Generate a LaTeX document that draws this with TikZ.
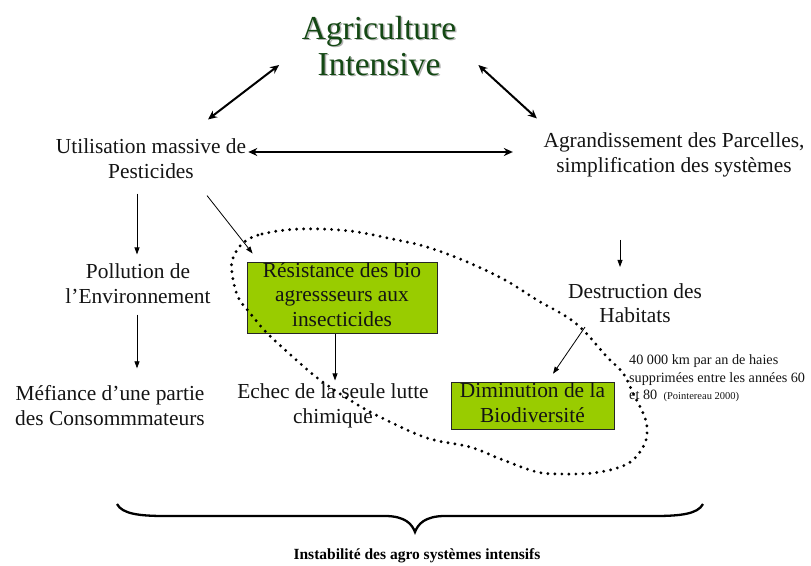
\documentclass[tikz,border=0pt]{standalone}
\usepackage{fontspec}
\setmainfont{Liberation Serif}
\usetikzlibrary{arrows.meta,calc}
\definecolor{leaf}{RGB}{153,204,0}
\definecolor{titlegreen}{RGB}{20,72,20}
\begin{document}
\begin{tikzpicture}[x=1pt,y=-1pt,
  body/.style={font=\fontsize{21.4}{24.5}\selectfont, align=center, inner sep=0pt,
    text=black!92, execute at begin node=\strut, execute at end node=\strut},
  titletext/.style={font=\fontsize{33.5}{36}\selectfont, align=center, inner sep=0pt,
    execute at begin node=\strut, execute at end node=\strut},
  greenbox/.style={body, fill=leaf, draw=black!85, line width=0.8pt},
  notetext/.style={font=\fontsize{14.2}{17.5}\selectfont, align=left, inner sep=0pt,
    text=black!92, execute at begin node=\strut, execute at end node=\strut},
  bigarrow/.style={{Stealth[length=9pt,width=8pt]}-{Stealth[length=9pt,width=8pt]}, line width=2pt},
  smallarrow/.style={-{Triangle[length=7pt,width=5pt]}, line width=0.8pt},
  dotline/.style={line width=3.2pt, line cap=round, dash pattern=on 0pt off 7pt},
]
\useasboundingbox (0,0) rectangle (811,565);

% title with its soft shadow
\node[titletext, text=black!30] (titleshade) at (380.5,52.5) {Agriculture\\Intensive};
\node[titletext, text=titlegreen] (title) at (379,51) {Agriculture\\Intensive};

% text blocks
\node[body] (util) at (151,162) {Utilisation massive de\\Pesticides};
\node[body] (agr) at (674,156) {Agrandissement des Parcelles,\\simplification des systèmes};
\node[body] (poll) at (138,287) {Pollution de\\l’Environnement};
\node[body] (mef) at (110,409) {Méfiance d’une partie\\des Consommmateurs};
\node[greenbox, minimum width=190pt] (res) at (342,298) {Résistance des bio\\agressseurs aux\\insecticides};
\node[body] (echec) at (333,407) {Echec de la seule lutte\\chimique};
\node[body] (dest) at (635,306.5) {Destruction des\\Habitats};
\node[greenbox, minimum width=163pt] (dimin) at (532.5,406) {Diminution de la\\Biodiversité};
\node[notetext, anchor=west] (note) at (629,380)
  {40 000 km par an de haies\\supprimées entre les années 60\\et 80\hspace{0.45em}{\fontsize{10.5}{13}\selectfont(Pointereau 2000)}};

% dotted loop around the consequences
\draw[dotline] plot[smooth cycle, tension=0.6] coordinates {
  (243,243) (262,234) (300,229) (350,231) (397,240) (427,247) (465,261)
  (505,280) (537,300) (567,317) (585,332) (607,357) (623,373) (633,393)
  (643,413) (647,427) (645,443) (633,460) (617,468) (593,473) (563,474)
  (537,472) (503,460) (470,447) (427,438) (380,417) (353,402) (320,380)
  (293,357) (267,333) (250,313) (238,297) (232,273) (233,258)};

% thick two-way links
\draw[bigarrow] ([shift={(-22.5,14)}]title.west) -- ([shift={(57,-19)}]util.north);
\draw[bigarrow] ([shift={(22,14)}]title.east) -- ([shift={(-6.5,-14)}]agr.north west);
\draw[bigarrow] ([shift={(2,-10)}]util.east) -- ([shift={(-30.5,-4)}]agr.west);

% thin cause-effect arrows
\draw[smallarrow] ([shift={(-14,8)}]util.south) -- ([shift={(-1,-9)}]poll.north);
\draw[smallarrow] ([shift={(56,10)}]util.south) -- ([shift={(6,-8.5)}]res.north west);
\draw[smallarrow] ([shift={(-1,4)}]poll.south) -- ([shift={(27,-17)}]mef.north);
\draw[smallarrow] ([xshift=-7]res.south) -- ([shift={(2,-3)}]echec.north);
\draw[smallarrow] ([shift={(-15,-43)}]dest.north) -- ([shift={(-15,-16)}]dest.north);
\draw[smallarrow] ([shift={(-50,-3)}]dest.south) -- ([shift={(20.5,-8.5)}]dimin.north);

% brace gathering everything
\coordinate (bracetip) at (415,532);
\draw[line width=2.3pt] (117,504) .. controls (122,514) and (140,516) .. (165,516)
  -- (385,516) .. controls (405,516) and (412,524) .. (bracetip)
  .. controls (418,524) and (425,516) .. (445,516) -- (655,516)
  .. controls (680,516) and (698,514) .. (703,504);
\node[font=\bfseries\fontsize{15.5}{18}\selectfont, inner sep=0pt, anchor=base] (caption) at (417,559)
  {Instabilité des agro systèmes intensifs};
\end{tikzpicture}
\end{document}
